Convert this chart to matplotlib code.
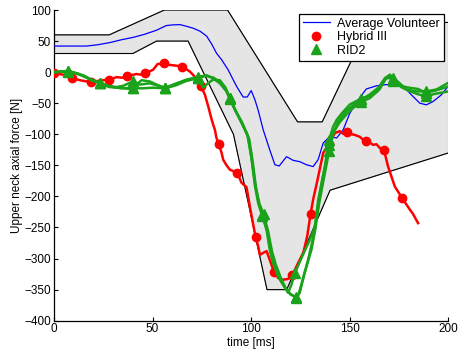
import numpy as np
import matplotlib
matplotlib.use("Agg")
import matplotlib.pyplot as plt
from matplotlib.lines import Line2D

plt.rcParams['font.family'] = ['Liberation Sans', 'DejaVu Sans']

# Volunteer corridor bounds (time [ms], force [N])
corr_upper_t = [0, 28, 56, 88, 123.5, 136, 160, 200]
corr_upper_v = [60, 60, 100, 100, -80, -80, 80, 80]
corr_lower_t = [0, 40, 52, 68, 91, 108, 118, 140, 200]
corr_lower_v = [30, 30, 50, 50, -100, -350, -350, -190, -130]

# Average volunteer response
vol_t = [0, 8, 16.5, 22, 28.4, 34, 40.2, 46, 52, 57, 60, 63.8, 67, 70.6, 74, 77.4,
         80, 82.4, 85, 88.3, 90.5, 92.6, 95.9, 98, 100, 101.9, 103.5, 106.1, 109.4,
         112, 114.2, 117.9, 121.3, 124.6, 128, 131.4, 133.9, 136.5, 139.9, 143.3,
         146.6, 150, 154.2, 158.4, 163.5, 168.5, 173.6, 177, 181.2, 185.5, 188.8,
         192.2, 196.4, 200]
vol_v = [42, 42, 42, 44, 47.6, 52, 56, 61, 67.5, 75, 76, 76.5, 74, 70.7, 66, 58,
         45, 30.5, 20, 3.7, -10, -23, -40, -40, -29.6, -44.5, -61, -93, -125,
         -149, -151, -136, -142, -144, -149, -152, -141, -114, -103.5, -106,
         -93, -66, -44.5, -27, -22, -20, -22, -22, -36.5, -50, -52.6,
         -47.3, -36.5, -22]

# Hybrid III dummy
h3_t = [0, 4.7, 9.3, 14, 18.6, 23.3, 27.9, 31.8, 34.5, 37.1, 41.9, 44, 46.4, 50.3,
        52.5, 55.7, 58, 60.4, 63, 65.0, 68.9, 71, 72.5, 74.3, 76.5, 78.2, 80, 81.6,
        82.4, 83.6, 85, 85.8, 87.5, 89.2, 92.9, 95.1, 97.6, 99.3, 101, 102.2, 103.5,
        104.4, 106, 107.8, 109.4, 111.5, 113.6, 116.1, 118.5, 120.8, 123.8, 126.4,
        128.4, 130.1, 131.4, 133.3, 136.5, 139.4, 142.4, 144.9, 146.5, 148.7, 151,
        152.5, 155, 156.5, 158.0, 160, 161.8, 163.5, 165.2, 167.3, 169.4, 172.8,
        176.6, 180.4, 182, 184.6]
h3_v = [-2, -4, -10, -13.5, -16, -13.5, -12, -8, -9, -6, -3, -4, -2, 4,
        13, 14, 12, 11, 10, 9, 1, -6, -12, -22, -36, -55, -77, -93,
        -106, -116, -130, -141, -150, -157, -162, -178, -185, -216, -245, -265, -280,
        -294, -291, -288, -302, -321, -331, -334, -333, -327, -307, -291,
        -264, -228, -205, -178, -130, -115, -98, -95, -99, -96, -100,
        -101, -104, -108, -110, -113, -117, -116, -122, -125, -152, -184,
        -203, -221, -228, -243]
h3_mark_t = [0, 9.3, 18.6, 27.9, 37.1, 46.4, 55.7, 65.0, 74.3, 83.6, 92.9, 102.2,
             111.5, 120.8, 130.1, 139.4, 148.7, 158.0, 167.3, 176.6]

# RID2 dummy, three tests
rid_t1 = [0, 3, 7.3, 11.5, 14.8, 19, 23.3, 27.5, 31.8, 35, 40.0, 43.6, 48.6, 52, 56.5,
          61.3, 67.2, 72.8, 77.4, 80.7, 84.1, 87.5, 89.2, 91.7, 95.1, 98.5, 100.2,
          101.9, 103.5, 105.7, 107.8, 109.4, 111.1, 113.6, 116.2, 118.7, 120.4, 122.2,
          125.5, 129.7, 132.2, 134, 137.3, 139.5, 141.5, 143.3, 146, 150, 155.5, 158,
          160.1, 165.2, 167.7, 170.3, 172, 175.3, 178.7, 183.7, 188.5, 193.9, 200]
rid_v1 = [0, 1, 2, -2, -5, -12, -17, -22, -24, -22, -15, -20, -18, -21, -25,
          -19, -12, -8, -5, -10, -18, -31, -43, -60, -80, -105, -140,
          -183, -210, -230, -254, -286, -307, -329, -342, -355, -342, -323,
          -299, -270, -250, -205, -152, -109, -88, -77, -66, -52, -43, -40,
          -36, -23, -10, -4, -9, -18, -28, -31, -31, -28, -17]
rid_t2 = [0, 7.3, 12, 16, 19.5, 23.3, 28, 33, 38.5, 40.0, 45, 50, 56.5, 61, 67, 72.8,
          75.7, 78, 80.7, 84.1, 87, 89.2, 92, 95.5, 99, 100.8, 102.5, 104, 105.7, 108.3,
          110, 112, 114.5, 117, 119.5, 122.8, 124.6, 127.1, 130.5, 132.5, 134.5, 137.5,
          139.5, 141.5, 144, 148.6, 155.5, 160, 163.5, 166, 168.5, 172, 176, 180, 184,
          188.5, 193, 200]
rid_v2 = [0, 2, -3, -8, -14, -18, -24, -25, -27, -26, -26, -25, -26, -20, -14, -9,
          -25, -18, -12, -13, -25, -42, -62, -82, -108, -145, -188, -215, -232, -258,
          -290, -312, -333, -346, -356, -363, -355, -323, -286, -253, -210, -160,
          -127, -100, -80, -61, -44, -38, -32, -18, -8, -12, -24, -30, -35,
          -39, -35, -31]
rid_t3 = [0, 7.3, 12, 18, 23.3, 28, 34, 40.0, 44.4, 48.6, 52, 56.5, 62, 67, 72.8, 77,
          81, 84, 87, 89.2, 91.5, 94.5, 98, 100, 102, 104.2, 106.3, 108.5, 110.5, 112.5,
          115, 117.5, 120, 122.8, 124, 126, 129, 131.5, 133.5, 136, 139.5, 142, 145,
          150, 155.5, 160, 165, 168, 170.5, 172, 175.5, 180, 184.5, 188.5, 193, 200]
rid_v3 = [0, 1, -2, -11, -17, -23, -26, -25, -13, -15, -20, -26, -21, -14, -10, -6,
          -9, -16, -28, -42, -58, -78, -100, -135, -180, -212, -229, -255, -288, -310,
          -331, -348, -358, -362, -358, -335, -300, -265, -225, -175, -118, -95, -80,
          -62, -48, -42, -28, -12, -6, -14, -22, -25, -27, -33, -30, -23]
rid_mark_t = [7.3, 23.3, 40.0, 56.5, 72.8, 89.2, 105.7, 106.3, 122.2, 122.8, 139.5,
              155.5, 172, 188.5]

RED = '#ff0000'
GREEN = '#1aa31a'
BLUE = '#0000ff'

fig = plt.figure(figsize=(4.59, 3.55), dpi=100)
ax = fig.add_axes([0.1176, 0.0966, 0.8594, 0.8752])

# corridor
poly_t = corr_upper_t + corr_lower_t[::-1]
poly_v = corr_upper_v + corr_lower_v[::-1]
ax.fill(poly_t, poly_v, facecolor='#e5e5e5', edgecolor='#9a9a9a', linewidth=0.7, zorder=1)
ax.plot(corr_upper_t, corr_upper_v, color='black', lw=0.8, zorder=2)
ax.plot(corr_lower_t, corr_lower_v, color='black', lw=0.8, zorder=2)

ax.plot(vol_t, vol_v, color=BLUE, lw=0.9, zorder=3)


def mark_idx(ts, marks):
    return [i for i, t in enumerate(ts) if any(abs(t - m) < 1e-6 for m in marks)]


ax.plot(h3_t, h3_v, color=RED, lw=1.8, marker='o', ms=6,
        markevery=mark_idx(h3_t, h3_mark_t), zorder=4)
for ts, vs in [(rid_t1, rid_v1), (rid_t2, rid_v2), (rid_t3, rid_v3)]:
    ax.plot(ts, vs, color=GREEN, lw=1.8, marker='^', ms=6.5,
            markevery=mark_idx(ts, rid_mark_t), zorder=5)

ax.set_xlim(0, 200)
ax.set_ylim(-400, 100)
ax.set_xticks([0, 50, 100, 150, 200])
ax.set_yticks(np.arange(-400, 101, 50))
ax.set_yticklabels(['\u2212400', '\u2212350', '\u2212300', '\u2212250', '\u2212200',
                    '\u2212150', '\u2212100', '\u221250', '0', '50', '100'])
ax.spines['top'].set_visible(False)
ax.spines['right'].set_visible(False)
for s in ('left', 'bottom'):
    ax.spines[s].set_linewidth(0.9)
ax.tick_params(direction='in', length=3, width=0.8, labelsize=8.5, pad=2)
ax.set_xlabel('time [ms]', fontsize=8.5, labelpad=1)
ax.set_ylabel('Upper neck axial force [N]', fontsize=8.5, labelpad=1)

handles = [Line2D([], [], color=BLUE, lw=0.9),
           Line2D([], [], color=RED, lw=0, marker='o', ms=6),
           Line2D([], [], color=GREEN, lw=0, marker='^', ms=6.5)]
leg = ax.legend(handles, ['Average Volunteer', 'Hybrid III', 'RID2'],
                loc='upper right', bbox_to_anchor=(443.5 / 459, 1 - 14 / 355),
                bbox_transform=fig.transFigure, fontsize=9, frameon=True,
                fancybox=False, framealpha=1, edgecolor='black',
                borderpad=0.3, labelspacing=0.12, handlelength=2.2,
                handletextpad=0.55, borderaxespad=0)
leg.get_frame().set_linewidth(0.9)
leg.set_zorder(10)

fig.savefig('out.png', dpi=100)
